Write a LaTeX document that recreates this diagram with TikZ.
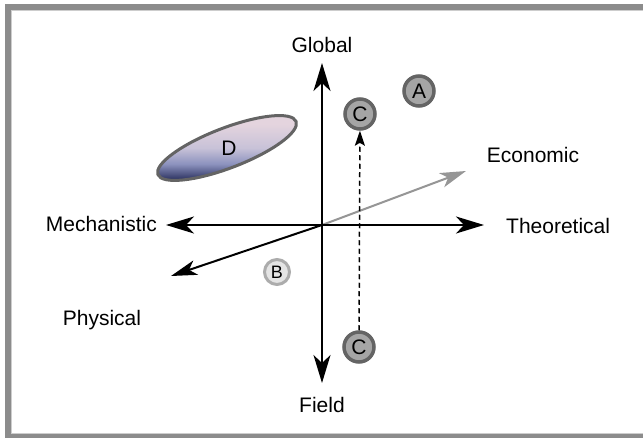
\documentclass[tikz,border=0pt]{standalone}
\usepackage{fontspec}
\setmainfont{Liberation Sans}
\usetikzlibrary{arrows.meta,positioning}
\definecolor{keret}{RGB}{140,140,140}
\definecolor{keretbel}{RGB}{205,205,205}
\definecolor{dotline}{RGB}{100,100,100}
\definecolor{dotfill}{RGB}{165,165,165}
\definecolor{paleline}{RGB}{172,172,172}
\definecolor{palefill}{RGB}{228,228,228}
\definecolor{ecogray}{RGB}{150,150,150}
\definecolor{blobtop}{RGB}{228,212,222}
\definecolor{blobmid}{RGB}{200,194,216}
\definecolor{blobmidb}{RGB}{140,146,190}
\definecolor{blobbot}{RGB}{50,56,102}
\pgfdeclareverticalshading{blobshade}{100bp}{color(0bp)=(blobbot); color(27bp)=(blobbot);
  color(38bp)=(blobmidb); color(50bp)=(blobmid); color(68bp)=(blobtop); color(100bp)=(blobtop)}
\tikzset{
  lbl/.style={font=\fontsize{21}{25}\selectfont,inner sep=0pt},
  axisarr/.style={line width=2pt,
    {Stealth[length=28pt,width=17pt,inset=8pt]}-{Stealth[length=28pt,width=17pt,inset=8pt]}},
  onearr/.style={line width=2pt,-{Stealth[length=26pt,width=15pt,inset=7pt]}},
  dot/.style={circle,draw=dotline,fill=dotfill,line width=3.5pt,minimum size=30pt,
    inner sep=0pt,font=\fontsize{21}{24}\selectfont},
  pale/.style={circle,draw=paleline,fill=palefill,line width=3pt,minimum size=25pt,
    inner sep=0pt,font=\fontsize{18}{21}\selectfont},
  dsh/.style={dashed,dash pattern=on 5pt off 3.5pt,line width=1.5pt,
    -{Stealth[length=15pt,width=10pt,inset=3pt]}},
  blob/.style={draw=dotline,line width=3pt,shading=blobshade},
}
\begin{document}
\begin{tikzpicture}[x=1pt,y=-1pt]
  \useasboundingbox (0,0) rectangle (643,438);
  \clip (0,0) rectangle (643,438);
  % frame
  \draw[keret,line width=6pt] (660,7) -- (8,7) -- (8,437) -- (660,437);
  \draw[keretbel,line width=1.2pt] (660,10.6) -- (11.6,10.6) -- (11.6,433.4) -- (660,433.4);

  % axes
  \coordinate (o) at (322,225);
  \coordinate (gtip) at (322,63);
  \coordinate (ftip) at (322,383);
  \coordinate (mtip) at (166,225);
  \coordinate (ttip) at (484,225);
  \coordinate (etip) at (466,171);
  \coordinate (ptip) at (171,276);
  \draw[onearr,ecogray] (o) -- (etip);
  \draw[onearr] (o) -- (ptip);
  \draw[axisarr] (mtip) -- (ttip);
  \draw[axisarr] (ftip) -- (gtip);

  \node[lbl] (glob) at (322,45) {Global};
  \node[lbl] (field) at (322,405) {Field};
  \node[lbl,anchor=east] (mech) at (157,224) {Mechanistic};
  \node[lbl,anchor=west] (theo) at (506,226) {Theoretical};
  \node[lbl] (econ) at (533,155) {Economic};
  \node[lbl] (phys) at (102,320) {Physical};

  % D
  \coordinate (dc) at (227,148);
  \draw[blob,rotate around={21:(dc)}] (dc) ellipse [x radius=74pt,y radius=20pt];
  \node[lbl] (d) at (229,148) {D};

  % points
  \node[dot] (a) at (419,91) {A};
  \node[dot] (ctop) at (360,114) {C};
  \node[dot] (cbot) at (359,347) {C};
  \node[pale] (b) at (277,272) {B};
  \draw[dsh] (cbot) -- (ctop);
\end{tikzpicture}
\end{document}
